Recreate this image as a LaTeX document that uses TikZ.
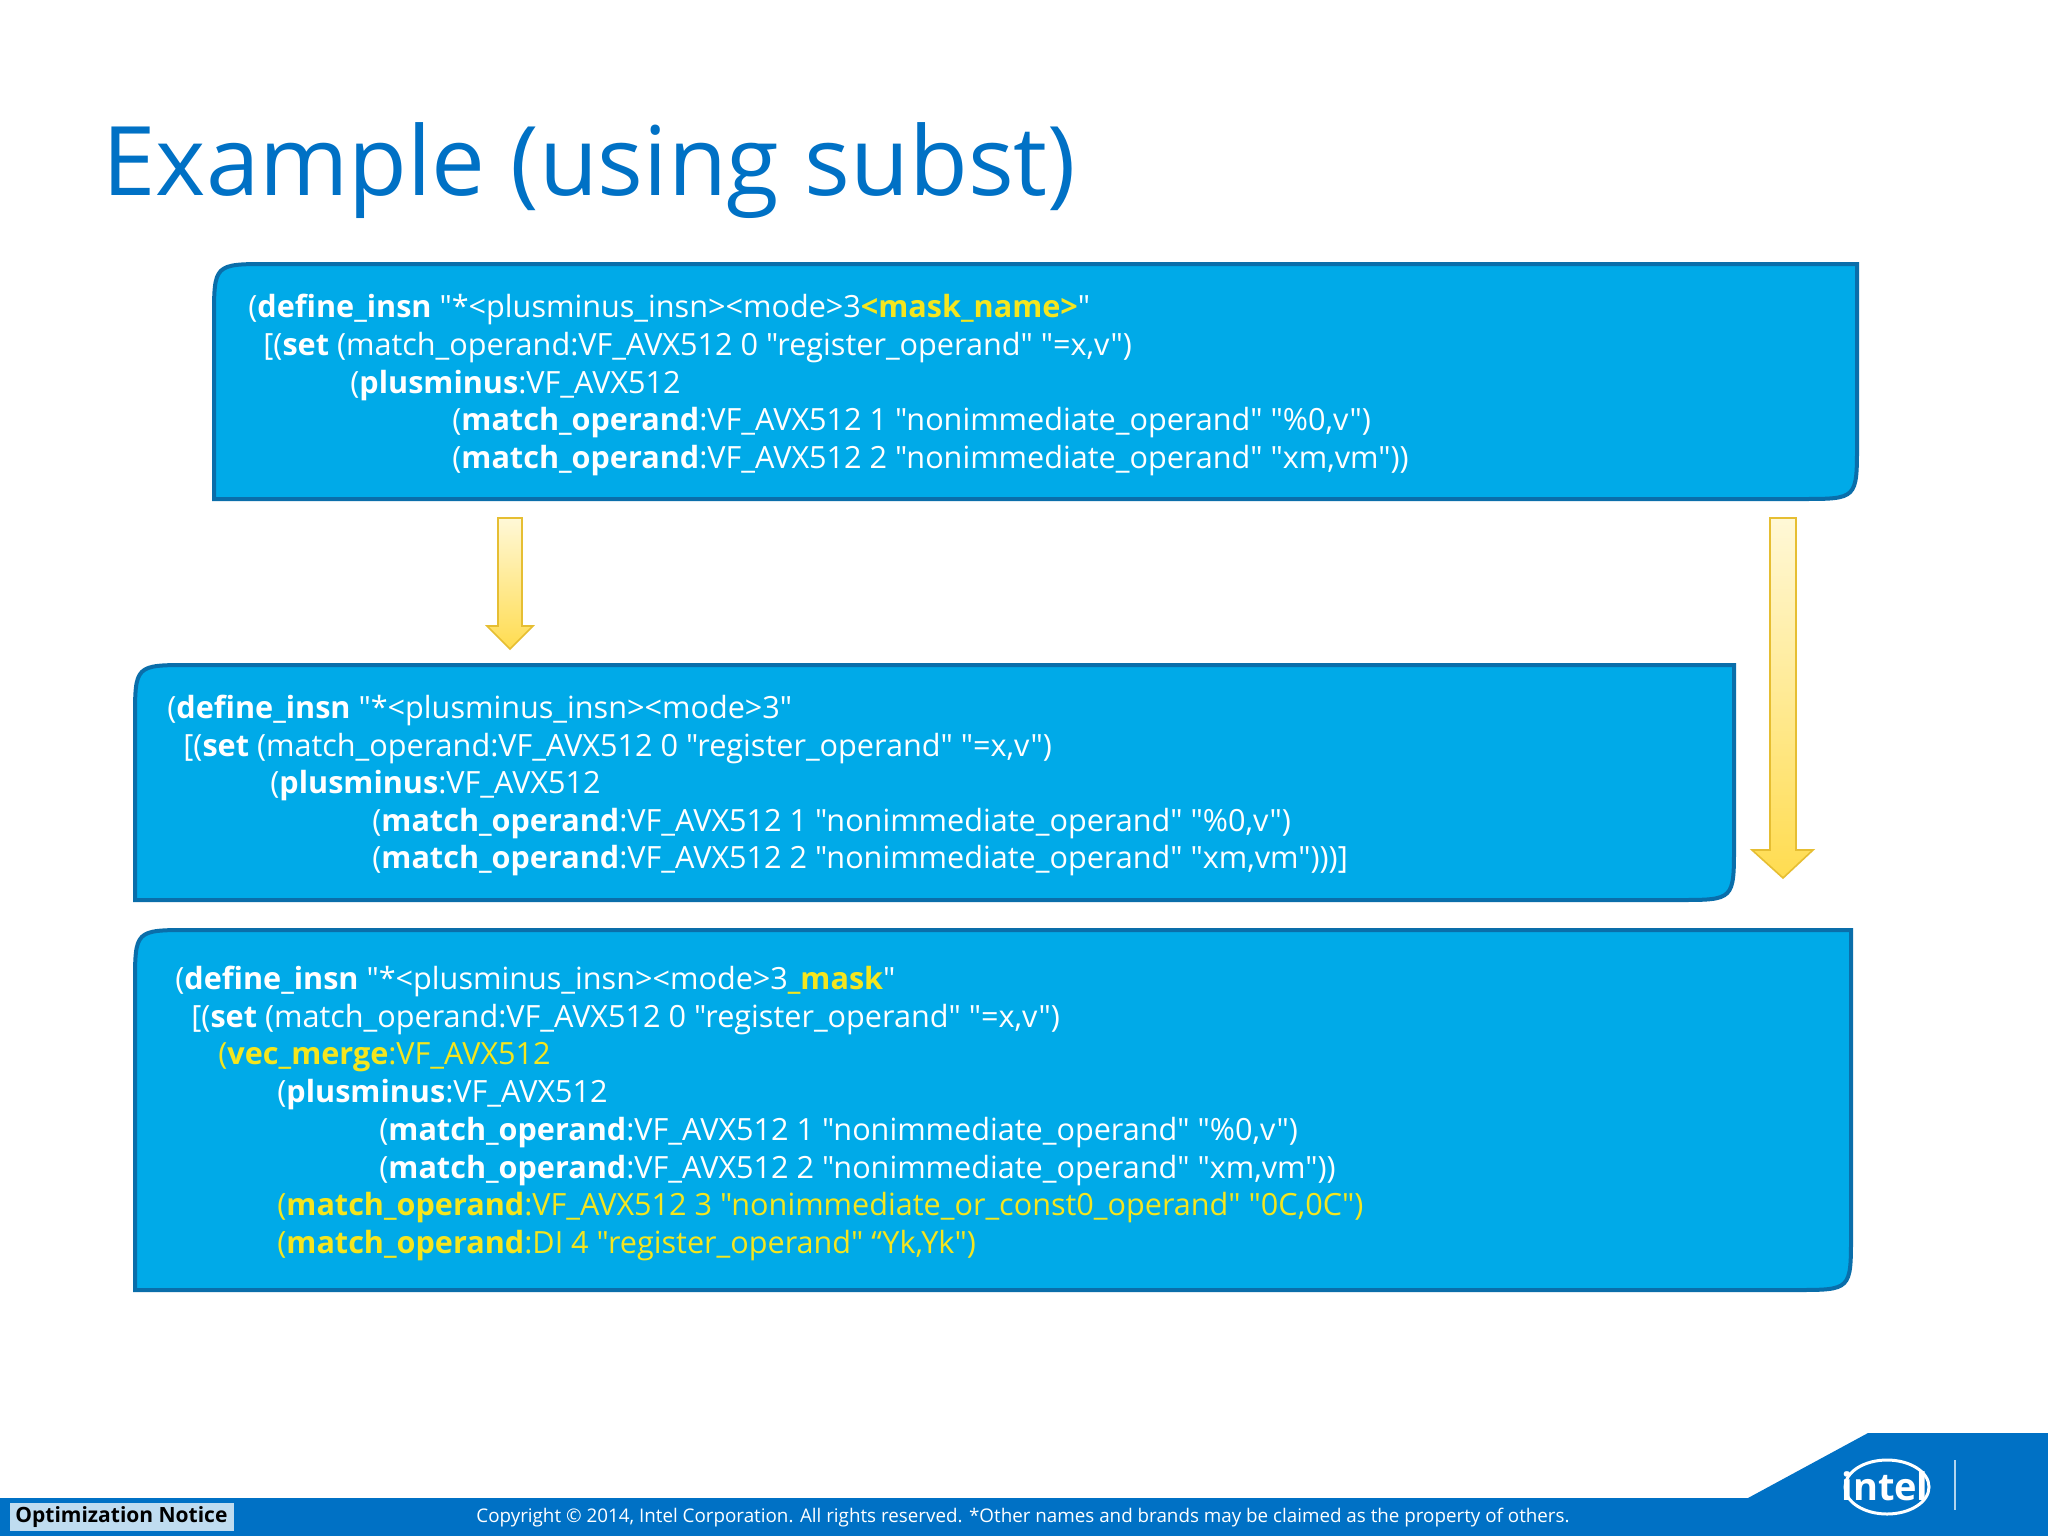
\documentclass[tikz,border=0pt]{standalone}
\usepackage{fontspec}
\setmainfont{Open Sans}[Ligatures=TeXOff]
\definecolor{boxfill}{RGB}{0,170,232}
\definecolor{boxline}{RGB}{10,110,170}
\definecolor{ttl}{RGB}{0,113,197}
\definecolor{ylw}{RGB}{245,230,30}
\definecolor{arrY}{RGB}{255,220,80}
\definecolor{arrL}{RGB}{255,248,215}
\definecolor{arrE}{RGB}{230,190,50}
\begin{document}
\begin{tikzpicture}[x=0.5pt,y=-0.5pt,
  box/.style={fill=boxfill,draw=boxline,line width=2pt},
  code/.style={anchor=base west,text=white,font=\fontsize{15.3}{18}\selectfont,inner sep=0pt},
  arr/.style={draw=arrE,line width=0.8pt,top color=arrL,bottom color=arrY}]
\useasboundingbox (0,0) rectangle (2048,1536);
\fill[white] (0,0) rectangle (2048,1536);
\node[anchor=base west,text=ttl,font=\fontsize{48}{56}\selectfont,inner sep=0] (title) at (102,195) {Example (using subst)};
% boxes
\def\bx#1#2#3#4{\draw[box] (#1,#4) -- (#1,#2+55) .. controls (#1,#2) .. (#1+55,#2) -- (#3,#2) -- (#3,#4-55) .. controls (#3,#4) .. (#3-55,#4) -- cycle;}
\bx{214}{264}{1857}{499}
\bx{135}{665}{1734}{900}
\bx{135}{930}{1851}{1290}
% arrows
\draw[arr] (498,518) -- (522,518) -- (522,626) -- (533,626) -- (510,649) -- (487,626) -- (498,626) -- cycle;
\draw[arr] (1770,518) -- (1796,518) -- (1796,850) -- (1813,850) -- (1783,878) -- (1752,850) -- (1770,850) -- cycle;
% box1 text
\node[code] (a1) at (248,317) {(\textbf{define\_insn} "*<plusminus\_insn><mode>3\textcolor{ylw}{\textbf{<mask\_name>}}"};
\node[code] (a2) at (263,355) {[(\textbf{set} (match\_operand:VF\_AVX512 0 "register\_operand" "=x,v")};
\node[code] (a3) at (350,393) {(\textbf{plusminus}:VF\_AVX512};
\node[code] (a4) at (452,430) {(\textbf{match\_operand}:VF\_AVX512 1 "nonimmediate\_operand" "\%0,v")};
\node[code] (a5) at (452,468) {(\textbf{match\_operand}:VF\_AVX512 2 "nonimmediate\_operand" "xm,vm"))};
% box2 text
\node[code] (b1) at (167,718) {(\textbf{define\_insn} "*<plusminus\_insn><mode>3"};
\node[code] (b2) at (183,756) {[(\textbf{set} (match\_operand:VF\_AVX512 0 "register\_operand" "=x,v")};
\node[code] (b3) at (270,793) {(\textbf{plusminus}:VF\_AVX512};
\node[code] (b4) at (372,831) {(\textbf{match\_operand}:VF\_AVX512 1 "nonimmediate\_operand" "\%0,v")};
\node[code] (b5) at (372,868) {(\textbf{match\_operand}:VF\_AVX512 2 "nonimmediate\_operand" "xm,vm")))]};
% box3 text
\node[code] (c1) at (175,989) {(\textbf{define\_insn} "*<plusminus\_insn><mode>3\textcolor{ylw}{\textbf{\_mask}}"};
\node[code] (c2) at (191,1027) {[(\textbf{set} (match\_operand:VF\_AVX512 0 "register\_operand" "=x,v")};
\node[code,text=ylw] (c3) at (218,1064) {(\textbf{vec\_merge}:VF\_AVX512};
\node[code] (c4) at (277,1102) {(\textbf{plusminus}:VF\_AVX512};
\node[code] (c5) at (379,1140) {(\textbf{match\_operand}:VF\_AVX512 1 "nonimmediate\_operand" "\%0,v")};
\node[code] (c6) at (379,1178) {(\textbf{match\_operand}:VF\_AVX512 2 "nonimmediate\_operand" "xm,vm"))};
\node[code,text=ylw] (c7) at (277,1215) {(\textbf{match\_operand}:VF\_AVX512 3 "nonimmediate\_or\_const0\_operand" "0C,0C")};
\node[code,text=ylw] (c8) at (277,1253) {(\textbf{match\_operand}:DI 4 "register\_operand" “Yk,Yk")};
% footer
\fill[ttl] (0,1498) rectangle (2048,1536);
\fill[ttl] (1748,1498) -- (1868,1433) -- (2048,1433) -- (2048,1498) -- cycle;
\draw[white,line width=1.5pt] (1887,1487) ellipse (42 and 27);
\node[text=white,font=\bfseries\fontsize{19}{22}\selectfont,inner sep=0] (logo) at (1885,1486) {intel};
\draw[white!70!ttl,line width=1pt] (1955,1460) -- (1955,1510);
\fill[white!75!ttl] (10,1503) rectangle (234,1531);
\node[anchor=west,font=\bfseries\fontsize{10.5}{12}\selectfont,inner sep=0] (opt) at (15,1517) {Optimization Notice};
\node[text=white,font=\fontsize{9.4}{11}\selectfont,inner sep=0] (copy) at (1023,1518) {Copyright © 2014, Intel Corporation. All rights reserved. *Other names and brands may be claimed as the property of others.};
\end{tikzpicture}
\end{document}
